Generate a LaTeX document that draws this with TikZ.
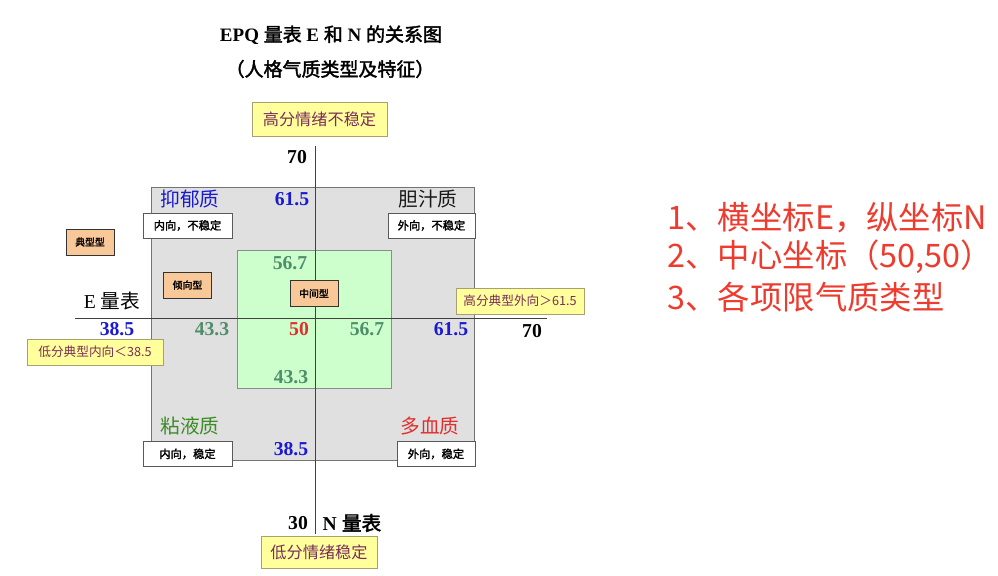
\documentclass[tikz,border=0pt]{standalone}
\usepackage{fontspec}
\usepackage{xcolor}
\setmainfont{Liberation Serif}
\newfontfamily\cjk[AutoFakeBold=2]{Noto Sans CJK SC}
\usetikzlibrary{positioning}

\definecolor{numBlue}{HTML}{1A1AD0}
\definecolor{numGreen}{HTML}{4E8E6A}
\definecolor{phlGreen}{HTML}{3C8C28}
\definecolor{sanRed}{HTML}{E0302E}
\definecolor{noteRed}{HTML}{EE3B2E}
\definecolor{lblText}{HTML}{7B2D5A}
\definecolor{lblFill}{HTML}{FFFF9C}
\definecolor{lblDraw}{HTML}{A8A070}
\definecolor{typFill}{HTML}{F8C898}
\definecolor{zoneGray}{HTML}{E0E0E0}
\definecolor{zoneGreen}{HTML}{CCFFCC}

\begin{document}
\begin{tikzpicture}[x=0.025cm, y=-0.025cm,
    every node/.style={inner sep=1pt},
    num/.style={font=\fontsize{14}{16}\selectfont\bfseries},
    kind/.style={font=\cjk\fontsize{14}{16}\selectfont},
    tagbox/.style={draw=gray!70!black, fill=white, minimum width=#1, minimum height=0.63cm, font=\cjk\bfseries\fontsize{8}{10}\selectfont},
    lblbox/.style={draw=lblDraw, fill=lblFill, text=lblText, minimum width=#1, font=\cjk\fontsize{9}{11}\selectfont},
    typbox/.style={draw=gray!40!black, fill=typFill, minimum width=1.2cm, minimum height=0.64cm, font=\cjk\bfseries\fontsize{7}{8}\selectfont},
    note/.style={anchor=west, text=noteRed, font=\cjk\fontsize{23}{27}\selectfont}]
    \useasboundingbox (0,0) rectangle (998,576);

    % title
    \node[font=\fontsize{13.5}{15}\selectfont\bfseries] (title) at (331,35) {EPQ {\cjk 量表} E {\cjk 和} N {\cjk 的关系图}};
    \node[font=\cjk\bfseries\fontsize{13.5}{15}\selectfont] (subtitle) at (330,69) {（人格气质类型及特征）};

    % zones
    \draw[gray!90!black, fill=zoneGray] (151,187) rectangle (474,460);
    \draw[gray!90, fill=zoneGreen] (237,250) rectangle (391,388);

    % axes
    \coordinate (nTop) at (315,146);
    \coordinate (nBot) at (315,534);
    \coordinate (eLeft) at (75,318);
    \coordinate (eRight) at (547,318);
    \draw[gray!50!black] (nTop) -- (nBot);
    \draw[gray!50!black] (eLeft) -- (eRight);

    % N scale labels
    \node[lblbox=3.375cm, minimum height=0.85cm, font=\cjk\fontsize{11.5}{13}\selectfont] (hiN) at (319.5,119) {高分情绪不稳定};
    \node[lblbox=2.9cm, minimum height=0.8cm, font=\cjk\fontsize{11.5}{13}\selectfont] (loN) at (319,552) {低分情绪稳定};
    \node[num] (n70) at (297,157) {70};
    \node[num] (n30) at (298,523) {30};
    \node[font=\fontsize{14}{16}\selectfont\bfseries] (nName) at (352,523) {N {\cjk 量表}};
    \node[num, numBlue] (n615) at (292,199) {61.5};
    \node[num, numGreen] (n567) at (290,263) {56.7};
    \node[num, numGreen] (n433) at (291,377) {43.3};
    \node[num, numBlue] (n385) at (291,449) {38.5};

    % E scale labels
    \node[font=\fontsize{14}{16}\selectfont] (eName) at (112,301) {E {\cjk 量表}};
    \node[num, numBlue] (e385) at (117,329) {38.5};
    \node[num, numGreen] (e433) at (212,329) {43.3};
    \node[num, sanRed] (e50) at (299,329) {50};
    \node[num, numGreen] (e567) at (367,329) {56.7};
    \node[num, numBlue] (e615) at (451,329) {61.5};
    \node[num] (e70) at (532,331) {70};
    \node[lblbox=3.2cm, minimum height=0.65cm] (hiE) at (520,301) {高分典型外向＞61.5};
    \node[lblbox=3.4cm, minimum height=0.65cm] (loE) at (95,352) {低分典型内向＜38.5};

    % temperament types
    \node[kind, numBlue] (mel) at (190,199) {抑郁质};
    \node[kind, gray!20!black] (cho) at (428,199) {胆汁质};
    \node[kind, phlGreen] (phl) at (190,426) {粘液质};
    \node[kind, sanRed] (san) at (430,426) {多血质};
    \node[tagbox=2.225cm] (melTag) at (187.5,225.5) {内向，不稳定};
    \node[tagbox=2.175cm] (choTag) at (431.5,225.5) {外向，不稳定};
    \node[tagbox=2.225cm] (phlTag) at (187.5,454) {内向，稳定};
    \node[tagbox=1.95cm] (sanTag) at (436,454) {外向，稳定};

    % degree boxes
    \node[typbox] (typical) at (90,242) {典型型};
    \node[typbox] (tending) at (187.5,285) {倾向型};
    \node[typbox] (middle) at (314,293.5) {中间型};

    % notes
    \node[note] (note1) at (666,218) {1、横坐标E，纵坐标N};
    \node[note] (note2) at (666,257) {2、中心坐标（50,50）};
    \node[note] (note3) at (666,297) {3、各项限气质类型};
\end{tikzpicture}
\end{document}
